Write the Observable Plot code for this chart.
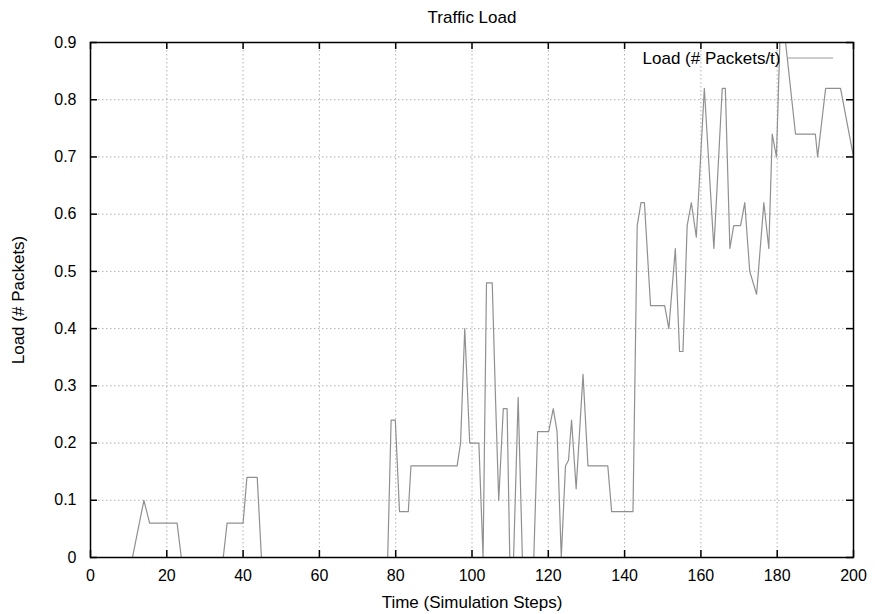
<!DOCTYPE html>
<html><head><meta charset="utf-8">
<script src="https://cdn.jsdelivr.net/npm/d3@7"></script>
<script src="https://cdn.jsdelivr.net/npm/@observablehq/plot@0.6"></script>
<style>body{margin:0;background:#fff}</style>
</head><body><div id="chart"></div>
<script>
const title = "Traffic Load";
const xLabel = "Time (Simulation Steps)";
const yLabel = "Load (# Packets)";
const seriesName = "Load (# Packets/t)";

const steps = [0, 11, 14, 15.5, 22.7, 23.8, 34.8, 35.8, 40, 41, 43.7, 44.8,
  77.9, 78.8, 79.9, 81, 83.3, 84, 96.1, 97, 98.1, 99.4, 101.8, 102.9, 103.8, 105.3,
  106.2, 107, 108.2, 109.2, 109.9, 110.9, 112.1, 113.2, 116.2, 117.2, 120.1, 121.3,
  122.3, 123.4, 124.5, 125.3, 126.1, 127.3, 129.1, 130.4, 135.6, 136.6, 142.2, 143.3,
  144.3, 145.2, 146.8, 150.5, 151.6, 153.3, 154.4, 155.3, 156.4, 157.5, 158.8, 160.9,
  163.4, 165.6, 166.4, 167.6, 168.6, 170.4, 171.5, 172.8, 174.6, 176.5, 177.8, 178.7,
  179.8, 180.7, 182.2, 184.8, 190, 190.6, 192.7, 196.6, 200];
const loads = [0, 0, 0.1, 0.06, 0.06, 0, 0, 0.06, 0.06, 0.14, 0.14, 0,
  0, 0.24, 0.24, 0.08, 0.08, 0.16, 0.16, 0.2, 0.4, 0.2, 0.2, 0, 0.48, 0.48,
  0.27, 0.1, 0.26, 0.26, 0, 0, 0.28, 0, 0, 0.22, 0.22, 0.26,
  0.22, 0, 0.16, 0.17, 0.24, 0.12, 0.32, 0.16, 0.16, 0.08, 0.08, 0.58,
  0.62, 0.62, 0.44, 0.44, 0.4, 0.54, 0.36, 0.36, 0.58, 0.62, 0.56, 0.82,
  0.54, 0.82, 0.82, 0.54, 0.58, 0.58, 0.62, 0.5, 0.46, 0.62, 0.54, 0.74,
  0.7, 0.9, 0.9, 0.74, 0.74, 0.7, 0.82, 0.82, 0.7];

const xTicks = [0, 20, 40, 60, 80, 100, 120, 140, 160, 180, 200];
const xTickLabels = ["0", "20", "40", "60", "80", "100", "120", "140", "160", "180", "200"];
const yTicks = [0, 0.1, 0.2, 0.3, 0.4, 0.5, 0.6, 0.7, 0.8, 0.9];
const yTickLabels = ["0", "0.1", "0.2", "0.3", "0.4", "0.5", "0.6", "0.7", "0.8", "0.9"];

const data = steps.map((t, i) => ({t, load: loads[i]}));
const font = "'Liberation Sans', Arial, Helvetica, sans-serif";
const T = 7;
const LF = 17;

const legendLine = (index, scales, values, dims) => {
  const x2 = dims.width - dims.marginRight - 20;
  const y = dims.marginTop + 16;
  const l = d3.create("svg:line")
    .attr("x1", x2 - 45).attr("x2", x2).attr("y1", y).attr("y2", y)
    .attr("stroke", "#999").attr("stroke-width", 1.2);
  return l.node();
};

const chart = Plot.plot({
  width: 875, height: 614,
  marginLeft: 90, marginRight: 22, marginTop: 42, marginBottom: 57,
  style: {fontFamily: font, fontSize: "16px", background: "#fff"},
  x: {domain: [0, 200], axis: null},
  y: {domain: [0, 0.9], axis: null},
  marks: [
    Plot.ruleX(xTicks.slice(1, -1), {stroke: "#b0b0b0", strokeDasharray: "1.5,2.5", strokeWidth: 1}),
    Plot.ruleY(yTicks.slice(1, -1), {stroke: "#b0b0b0", strokeDasharray: "1.5,2.5", strokeWidth: 1}),
    Plot.line(data, {x: "t", y: "load", stroke: "#909090", strokeWidth: 1.2, clip: true}),
    Plot.ruleX(xTicks, {y1: 0, y2: 0, insetBottom: T, stroke: "#000", strokeWidth: 1.5}),
    Plot.ruleX(xTicks, {y1: 0.9, y2: 0.9, insetTop: T, stroke: "#000", strokeWidth: 1.5}),
    Plot.ruleY(yTicks, {x1: 0, x2: 0, insetRight: -T, stroke: "#000", strokeWidth: 1.5}),
    Plot.ruleY(yTicks, {x1: 200, x2: 200, insetLeft: -T, stroke: "#000", strokeWidth: 1.5}),
    Plot.frame({stroke: "#000", strokeWidth: 1.5}),
    Plot.text(xTicks, {x: d => d, text: (d, i) => xTickLabels[i], frameAnchor: "bottom", lineAnchor: "middle", textAnchor: "middle", dy: 18, fill: "#000"}),
    Plot.text(yTicks, {y: d => d, text: (d, i) => yTickLabels[i], frameAnchor: "left", lineAnchor: "middle", textAnchor: "end", dx: -14, fill: "#000"}),
    Plot.text([title], {frameAnchor: "top", lineAnchor: "middle", textAnchor: "middle", dy: -25, fontSize: LF, fill: "#000"}),
    Plot.text([xLabel], {frameAnchor: "bottom", lineAnchor: "middle", textAnchor: "middle", dy: 45, fontSize: LF, fill: "#000"}),
    Plot.text([yLabel], {frameAnchor: "left", rotate: -90, textAnchor: "middle", lineAnchor: "middle", dx: -72, fontSize: LF, fill: "#000"}),
    Plot.text([seriesName], {frameAnchor: "top-right", textAnchor: "end", lineAnchor: "middle", dx: -73, dy: 16, fontSize: LF, fill: "#000"}),
    legendLine
  ]
});
document.getElementById("chart").appendChild(chart);
</script>
</body></html>
